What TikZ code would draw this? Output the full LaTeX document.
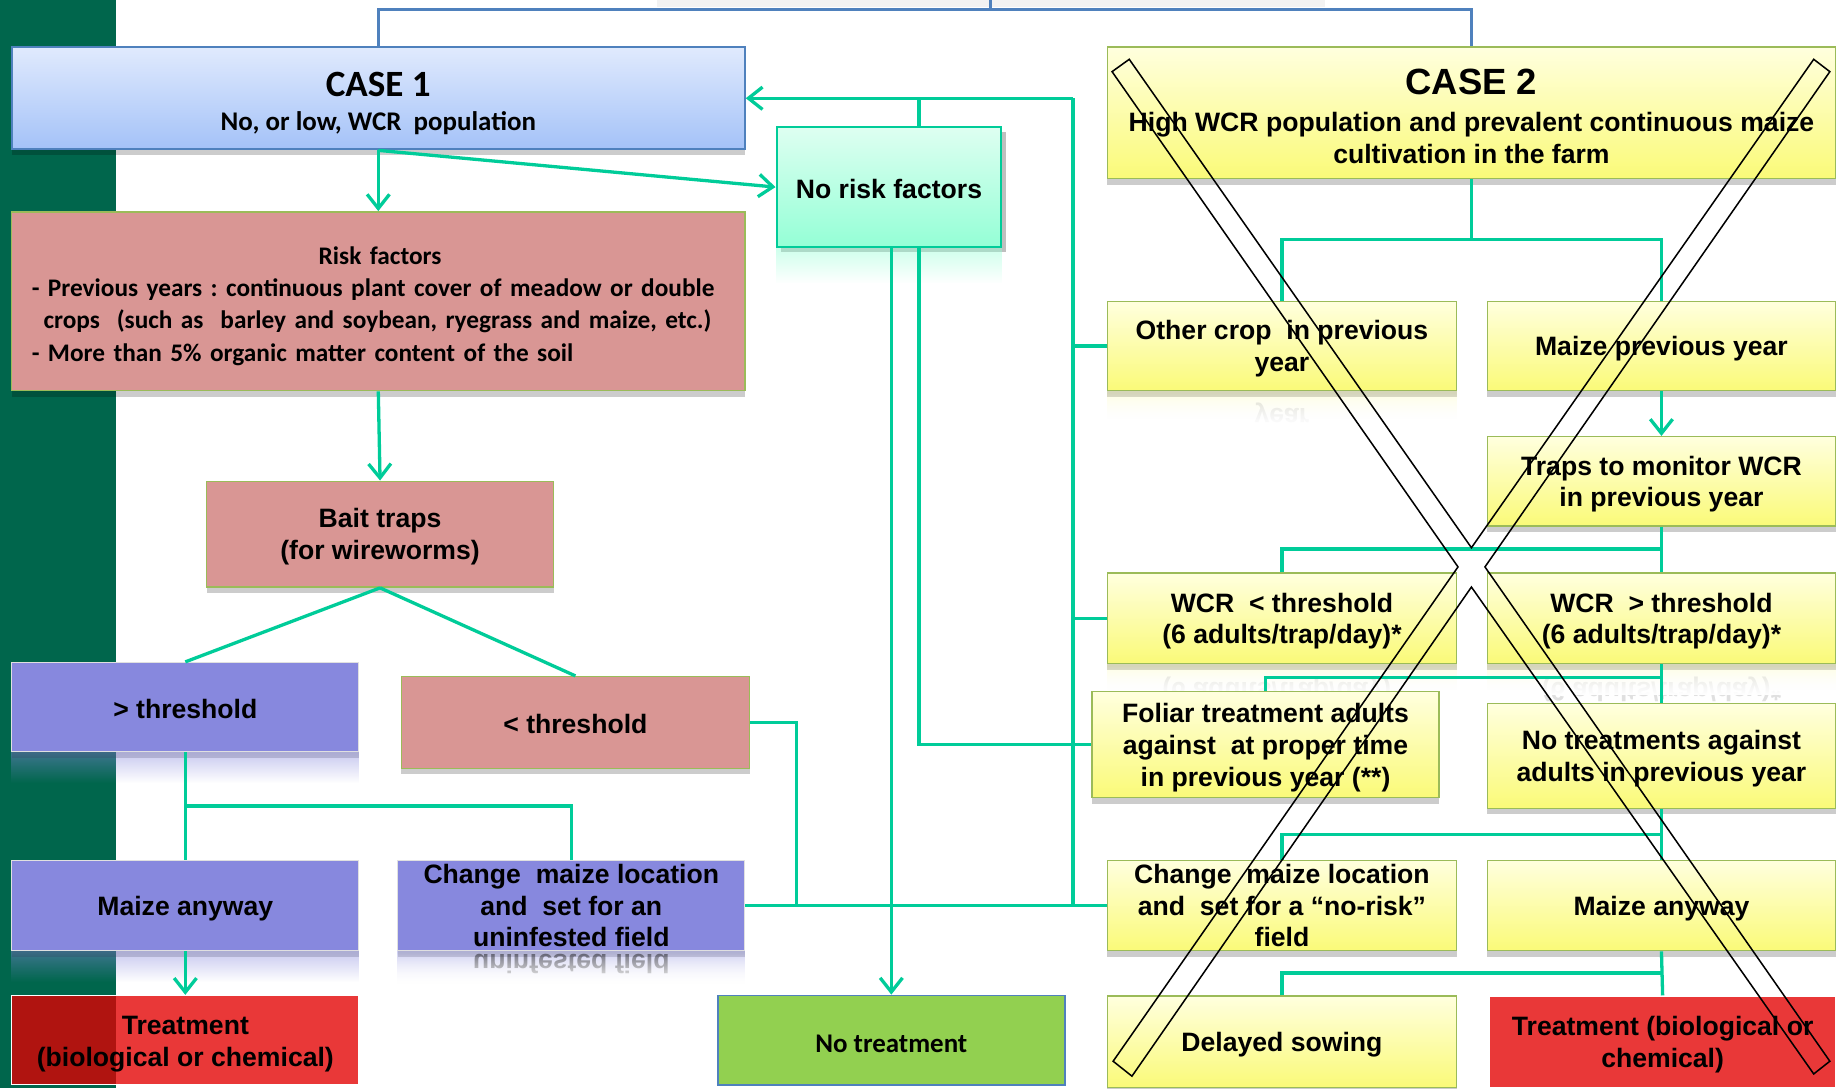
\documentclass[tikz,border=0pt]{standalone}
\usepackage{fontspec}
\usepackage{graphicx}
\setmainfont{Liberation Sans}
\newfontfamily\calfont{Carlito}
\usetikzlibrary{arrows.meta,shadows,calc,fadings}
\frenchspacing
\definecolor{cgreen}{RGB}{0,204,153}
\definecolor{bandgreen}{RGB}{0,102,76}
\definecolor{cblue}{RGB}{79,129,189}
\definecolor{pinkf}{RGB}{217,150,148}
\definecolor{purpf}{RGB}{135,136,222}
\definecolor{redf}{RGB}{233,56,56}
\definecolor{darkredf}{RGB}{176,20,16}
\definecolor{ntgreen}{RGB}{146,208,80}
\definecolor{olivegr}{RGB}{155,187,89}
\definecolor{yeltop}{RGB}{255,255,222}
\definecolor{yelbot}{RGB}{250,250,120}
\definecolor{bluetop}{RGB}{224,234,253}
\definecolor{bluebot}{RGB}{164,194,248}
\definecolor{minttop}{RGB}{222,255,241}
\definecolor{mintbot}{RGB}{148,255,214}
\tikzfading[name=fadedown, top color=transparent!0, bottom color=transparent!100]
\tikzfading[name=fadeup, top color=transparent!100, bottom color=transparent!0]
\newcommand{\arialtxt}{\fontsize{22.6}{27}\selectfont\bfseries}
\newcommand{\arialbig}{\fontsize{31}{36}\selectfont\bfseries}
\newcommand{\caltxt}{\calfont\fontsize{22.9}{27}\selectfont\bfseries}
\newcommand{\calrisk}{\calfont\fontsize{21.5}{27.4}\selectfont\bfseries}
\newcommand{\calbig}{\calfont\fontsize{31.5}{36}\selectfont\bfseries}
\newcommand{\reflbox}[4]{\fill[#2, opacity=#3, path fading=fadedown] (#1.south west) rectangle ($(#1.south east)+(0,#4)$);}
\newcommand{\reflfade}[2]{\fill[white, path fading=fadeup] ($(#1.south west)+(0,1)$) rectangle ($(#1.south east)+(0,#2)$);}
\begin{document}
\begin{tikzpicture}[x=1pt,y=-1pt,
  boxbase/.style={rectangle, inner sep=0pt, align=center, font=\arialtxt, text=black, text depth=0pt},
  shad/.style={drop shadow={shadow xshift=0pt, shadow yshift=-5pt, fill=black, opacity=0.2}},
  pinkbox/.style={boxbase, fill=pinkf, draw=olivegr, line width=1.2pt, shad},
  purpbox/.style={boxbase, fill=purpf, draw=black!12, line width=1pt, shad},
  yelbox/.style={boxbase, top color=yeltop, bottom color=yelbot, draw=olivegr, line width=1pt, shad},
  redbox/.style={boxbase, fill=redf, draw=white, line width=1pt},
  txt/.style={inner sep=0pt, align=center, text=black},
  mirr/.style={inner sep=0pt, font=\arialtxt, anchor=base},
  conn/.style={draw=cgreen, line width=2.8pt},
  arr/.style={conn, -{Straight Barb[length=12pt,width=19pt]}},
  blueline/.style={draw=cblue, line width=2.4pt},
  crossx/.style={draw=black, line width=1.3pt, line join=miter}
]
\useasboundingbox (0,0) rectangle (1568,925);
\fill[white] (0,0) rectangle (1568,925);
\fill[bandgreen] (0,0) rectangle (99,925);
\fill[black!5] (558,0) rectangle (1126,6);

% ---------- CASE 1 side ----------
\node[boxbase, top color=bluetop, bottom color=bluebot, draw=cblue, line width=1.6pt, shad,
      minimum width=623pt, minimum height=87pt] (case1) at (321.5,83.5) {};
\node[txt, font=\calbig, anchor=base] (case1t) at (321.5,82) {CASE 1};
\node[txt, font=\caltxt, anchor=base] (case1s) at (321.5,111) {No, or low, WCR\ \ population};

\node[pinkbox, minimum width=623pt, minimum height=152pt] (risk) at (321.5,256) {};
\node[txt, font=\calrisk, text width=592pt, align=left] (riskt) at (323,260)
  {\makebox[592pt][c]{Risk factors}\\
   - Previous years : continuous plant cover of meadow or double\\
   \hspace*{10pt}crops\ \ (such as\ \ barley and soybean, ryegrass and maize, etc.)\\
   - More than 5\% organic matter content of the soil};

\node[pinkbox, minimum width=295pt, minimum height=90pt] (bait) at (323,454) {Bait traps\\(for wireworms)};
\node[purpbox, text height=20pt, minimum width=295pt, minimum height=76pt] (gt) at (157.5,601) {> threshold};
\reflbox{gt}{purpf}{0.45}{26}
\node[pinkbox, text height=18pt, minimum width=296pt, minimum height=78pt] (lt) at (489,614) {< threshold};
\node[purpbox, minimum width=295pt, minimum height=77pt] (maize1) at (157.5,769.5) {Maize anyway};
\reflbox{maize1}{purpf}{0.45}{26}
\node[purpbox, minimum width=295pt, minimum height=77pt] (change1) at (485.5,769.5)
  {Change\ \ maize location\\and\ \ set for an\\uninfested field};
\reflbox{change1}{purpf}{0.4}{28}
\node[mirr, text=black, text opacity=0.45] (change1r) at (485.5,811.5) {\scalebox{1}[-1]{uninfested field}};
\reflfade{change1}{30}
\node[redbox, minimum width=295pt, minimum height=76pt] (treat1) at (157.5,884) {};
\fill[darkredf] (10.5,846.5) rectangle (99,921.5);
\node[txt, font=\arialtxt, text depth=0pt] (treat1t) at (157.5,885) {Treatment\\(biological or chemical)};

\node[boxbase, top color=minttop, bottom color=mintbot, draw=cgreen, line width=1.8pt,
      drop shadow={shadow xshift=4pt, shadow yshift=-4pt, fill=black, opacity=0.25},
      text height=20pt, minimum width=191pt, minimum height=102pt] (nrf) at (755.5,159) {No risk factors};
\reflbox{nrf}{mintbot}{0.45}{30}
\node[boxbase, fill=ntgreen, draw=cblue, line width=1.4pt, font=\caltxt, text height=20.5pt,
      minimum width=295pt, minimum height=76pt] (notreat) at (757.5,884) {No treatment};

% ---------- CASE 2 side ----------
\node[yelbox, minimum width=619pt, minimum height=112pt] (case2) at (1250.5,96) {};
\node[txt, font=\arialbig, anchor=base] (case2t) at (1250.5,80.5) {CASE 2};
\node[txt, font=\arialtxt] (case2s) at (1250.5,117)
  {High WCR population and prevalent continuous maize\\cultivation in the farm};

\node[yelbox, minimum width=297pt, minimum height=76pt] (other) at (1089.5,294) {Other crop\ \ in previous\\year};
\reflbox{other}{yelbot}{0.22}{24}
\node[mirr, text=black, text opacity=0.12] (otherr) at (1089.5,347) {\scalebox{1}[-1]{year}};
\reflfade{other}{30}
\node[yelbox, minimum width=296pt, minimum height=76pt] (mprev) at (1412,294) {Maize previous year};
\node[yelbox, minimum width=296pt, minimum height=76pt] (traps) at (1412,409) {Traps to monitor WCR\\in previous year};
\node[yelbox, minimum width=297pt, minimum height=77pt] (wlt) at (1089.5,525.5) {WCR\ \ < threshold\\(6 adults/trap/day)*};
\node[yelbox, minimum width=296pt, minimum height=77pt] (wgt) at (1412,525.5) {WCR\ \ > threshold\\(6 adults/trap/day)*};
\reflbox{wlt}{yelbot}{0.22}{22}
\reflbox{wgt}{yelbot}{0.22}{22}
\node[mirr, text=black, text opacity=0.12] (wltr) at (1089.5,580) {\scalebox{1}[-1]{(6 adults/trap/day)*}};
\node[mirr, text=black, text opacity=0.12] (wgtr) at (1412,580) {\scalebox{1}[-1]{(6 adults/trap/day)*}};
\reflfade{wlt}{26}
\reflfade{wgt}{26}
\node[yelbox, minimum width=295pt, minimum height=90pt] (foliar) at (1075.5,633)
  {Foliar treatment adults\\against\ \ at proper time\\in previous year (**)};
\node[yelbox, minimum width=296pt, minimum height=89pt] (notr) at (1412,642.5) {No treatments against\\adults in previous year};
\node[yelbox, minimum width=297pt, minimum height=77pt] (change2) at (1089.5,769.5)
  {Change\ \ maize location\\and\ \ set for a “no-risk”\\field};
\node[yelbox, minimum width=296pt, minimum height=77pt] (maize2) at (1412,769.5) {Maize anyway};
\node[yelbox, minimum width=297pt, minimum height=78pt] (delayed) at (1089.5,885.5) {Delayed sowing};
\node[redbox, minimum width=294pt, minimum height=78pt] (treat2) at (1413,885.5) {Treatment (biological or\\chemical)};

% ---------- coordinates ----------
\coordinate (topstub) at (842,0);
\coordinate (topjoin) at (842,8);
\coordinate (j1) at (157.5,685);
\coordinate (j2) at (677,769.5);
\coordinate (j3) at (912,83.5);
\coordinate (j4) at (781,83.5);
\coordinate (j5) at (912,769.5);
\coordinate (k1) at (1250.5,203.5);
\coordinate (k2) at (1412,466.5);
\coordinate (k3) at (1412,575.5);
\coordinate (k4) at (1412,709);
\coordinate (k5) at (1412,827);

% ---------- connectors ----------
\draw[blueline] (case1.north) |- (topjoin) -| (case2.north);
\draw[blueline] (topstub) -- (topjoin);

\draw[arr] (case1.south) -- (risk.north);
\draw[arr] (case1.south) -- (nrf.west);
\draw[arr] (risk.south) -- (bait.north);
\draw[conn] (bait.south) -- (gt.north);
\draw[conn] (bait.south) -- (lt.north);
\draw[conn] (gt.south) -- (maize1.north);
\draw[conn] (j1) -| (change1.north);
\draw[arr] (maize1.south) -- (treat1.north);
\draw[conn] (lt.east) -| (j2);
\draw[conn] (change1.east) -- (change2.west);

\draw[arr] (j3) -- (case1.east);
\draw[conn] (j4) -- (j4 |- nrf.north);
\draw[conn] (j3) -- (j5);
\draw[conn] (j3 |- other.west) -- (other.west);
\draw[conn] (j3 |- wlt.west) -- (wlt.west);
\draw[conn] (j4 |- nrf.south) |- (foliar.west);
\draw[arr] (notreat.north |- nrf.south) -- (notreat.north);

\draw[conn] (case2.south) -- (k1);
\draw[conn] (other.north) |- (k1) -| (mprev.north);
\draw[arr] (mprev.south) -- (traps.north);
\draw[conn] (traps.south) -- (wgt.north);
\draw[conn] (wlt.north) |- (k2);
\draw[conn] (wgt.south) -- (notr.north);
\draw[conn] (foliar.north) |- (k3);
\draw[conn] (notr.south) -- (maize2.north);
\draw[conn] (change2.north) |- (k4);
\draw[conn] (maize2.south) -- (treat2.north);
\draw[conn] (delayed.north) |- (k5);

% ---------- big cross ----------
\draw[crossx] (959.7,50.4) -- (1250.5,465.5) -- (1541.4,50.4) -- (1555.1,60.9)
  -- (1262,481.8) -- (1555.1,901.9) -- (1541.4,912.7) -- (1250.5,498.9)
  -- (962,914.6) -- (946,901.9) -- (1239.1,481.8) -- (945.1,60.9) -- cycle;
\end{tikzpicture}
\end{document}
